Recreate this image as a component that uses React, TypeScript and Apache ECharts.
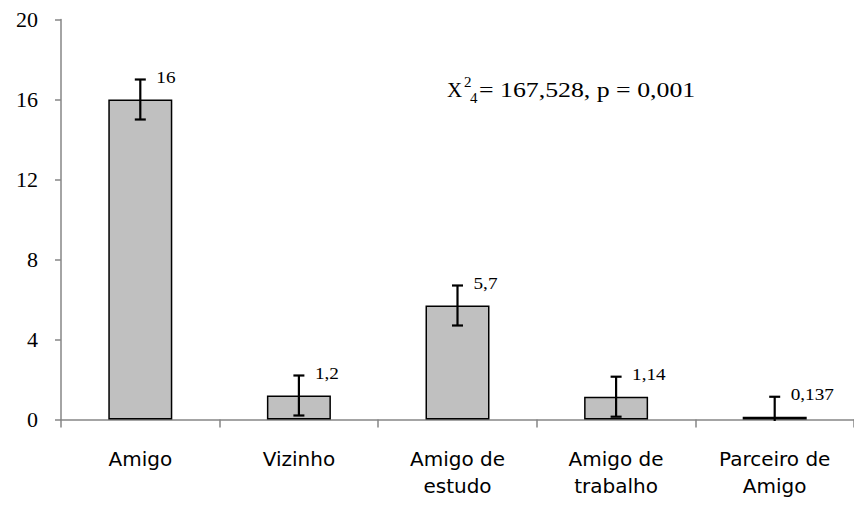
import React, { useEffect, useRef } from "react";
import * as echarts from "echarts";

const categories = ["Amigo", "Vizinho", "Amigo de\nestudo", "Amigo de\ntrabalho", "Parceiro de\nAmigo"];
const values = [16, 1.2, 5.7, 1.14, 0.137];
const valueLabels = ["16", "1,2", "5,7", "1,14", "0,137"];
const errors = [1, 1, 1, 1, 1];
const yTicks = { min: 0, max: 20, interval: 4 };

const SERIF = "'Liberation Serif', 'Times New Roman', serif";
const SANS = "'DejaVu Sans', sans-serif";

export default function App() {
  const ref = useRef<HTMLDivElement>(null);
  useEffect(() => {
    if (!ref.current) return;
    const chart = echarts.init(ref.current, null, { renderer: "svg" });
    const errData = values.map((v, i) => [i, v, errors[i]]);
    chart.setOption({
      animation: false,
      backgroundColor: "#ffffff",
      grid: { left: 61, top: 19.5, width: 800, height: 400, containLabel: false },
      xAxis: {
        type: "category",
        data: categories,
        axisLine: { lineStyle: { color: "#868686", width: 1.5 } },
        axisTick: { show: true, length: 8, lineStyle: { color: "#868686", width: 1.5 } },
        axisLabel: {
          color: "#000",
          fontFamily: SANS,
          fontSize: 20,
          lineHeight: 27,
          margin: 26,
          interval: 0,
        },
      },
      yAxis: {
        type: "value",
        min: yTicks.min,
        max: yTicks.max,
        interval: yTicks.interval,
        splitLine: { show: false },
        axisLine: { show: true, lineStyle: { color: "#868686", width: 1.5 } },
        axisTick: { show: true, length: 6, lineStyle: { color: "#868686", width: 1.5 } },
        axisLabel: { color: "#000", fontFamily: SERIF, fontSize: 22, margin: 23 },
      },
      series: [
        {
          type: "bar",
          data: values,
          barWidth: 64,
          itemStyle: { color: "#c0c0c0", borderColor: "#000", borderWidth: 1.5 },
          z: 2,
        },
        {
          type: "custom",
          data: errData,
          z: 5,
          clip: false,
          renderItem: (params: any, api: any) => {
            const idx = api.value(0);
            const v = api.value(1);
            const e = api.value(2);
            const hi = v + e;
            const lo = Math.max(v - e, 0);
            const pHi = api.coord([idx, hi]);
            const pLo = api.coord([idx, lo]);
            const cx = pHi[0];
            const cap = 5.5;
            const st = { stroke: "#000", lineWidth: 2.2 };
            const children: any[] = [
              { type: "line", shape: { x1: cx, y1: pHi[1], x2: cx, y2: pLo[1] + (v - e < 0 ? 1.5 : 0) }, style: st },
              { type: "line", shape: { x1: cx - cap, y1: pHi[1], x2: cx + cap, y2: pHi[1] }, style: st },
            ];
            if (v - e >= 0) {
              children.push({ type: "line", shape: { x1: cx - cap, y1: pLo[1], x2: cx + cap, y2: pLo[1] }, style: st });
            }
            children.push({
              type: "text",
              x: cx + 16,
              y: pHi[1] - 2,
              scaleX: 1.2,
              style: {
                text: valueLabels[params.dataIndex],
                fill: "#000",
                font: `16px ${SERIF}`,
                align: "left",
                verticalAlign: "middle",
              },
            });
            return { type: "group", children };
          },
        },
      ],
      graphic: [
        { type: "text", x: 447, y: 90, style: { text: "X", font: `21px ${SERIF}`, fill: "#000", verticalAlign: "middle" } },
        { type: "text", x: 464, y: 82, style: { text: "2", font: `15px ${SERIF}`, fill: "#000", verticalAlign: "middle" } },
        { type: "text", x: 470, y: 98, style: { text: "4", font: `15px ${SERIF}`, fill: "#000", verticalAlign: "middle" } },
        { type: "text", x: 479, y: 90, scaleX: 1.23, style: { text: "= 167,528, p = 0,001", font: `21px ${SERIF}`, fill: "#000", verticalAlign: "middle" } },
      ],
    });
    return () => chart.dispose();
  }, []);
  return <div ref={ref} style={{ position: "fixed", left: 0, top: 0, width: 854, height: 506 }} />;
}
